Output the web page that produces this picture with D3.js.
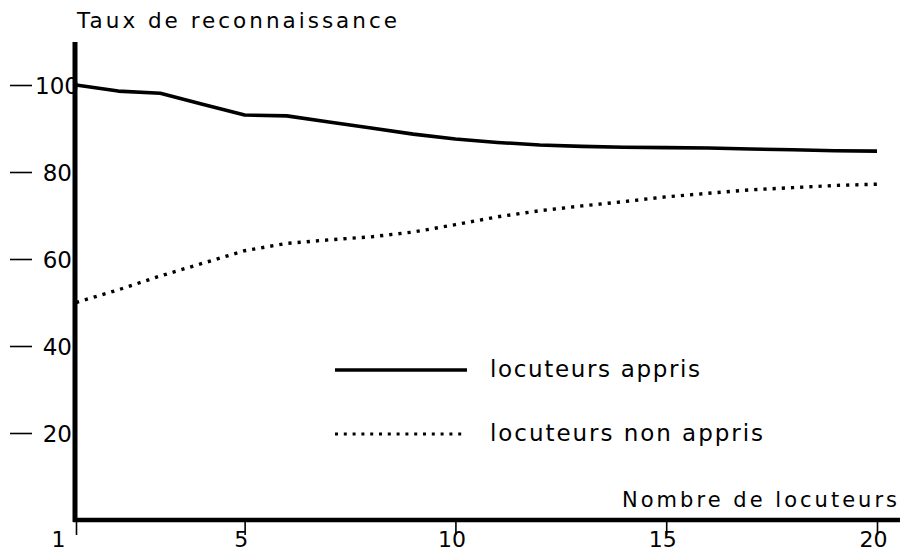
<!DOCTYPE html>
<html>
<head>
<meta charset="utf-8">
<script src="https://cdn.jsdelivr.net/npm/d3@7"></script>
<style>
  html, body { margin: 0; padding: 0; background: #fff; }
  svg text { font-family: "DejaVu Sans", "Liberation Sans", sans-serif; fill: #000; }
</style>
</head>
<body>
<svg id="chart" width="902" height="553"></svg>
<script>
// Nombre de locuteurs (abscisse)
const locuteurs = [1, 2, 3, 4, 5, 6, 7, 8, 9, 10, 11, 12, 13, 14, 15, 16, 17, 18, 19, 20];
// Taux de reconnaissance (%) pour les locuteurs appris
const appris = [100, 98.6, 98.1, 95.6, 93.1, 92.9, 91.5, 90.1, 88.7, 87.6, 86.8, 86.2, 85.9, 85.7, 85.6, 85.5, 85.3, 85.1, 84.9, 84.8];
// Taux de reconnaissance (%) pour les locuteurs non appris
const nonAppris = [50, 52.9, 56.1, 59.0, 61.9, 63.6, 64.4, 65.1, 66.2, 67.9, 69.7, 71.1, 72.2, 73.2, 74.3, 75.1, 75.9, 76.4, 76.9, 77.2];
// Graduations
const xTicks = [1, 5, 10, 15, 20];
const yTicks = [20, 40, 60, 80, 100];
const legendLabels = ["locuteurs appris", "locuteurs non appris"];

const svg = d3.select("#chart");
const x = d3.scaleLinear().domain([1, 20]).range([76, 877]);
const y = d3.scaleLinear().domain([0, 100]).range([520, 85]);

// Courbes
const line = d3.line().x((d, i) => x(locuteurs[i])).y(d => y(d));
svg.append("path").datum(appris)
  .attr("d", line).attr("fill", "none").attr("stroke", "#000")
  .attr("stroke-width", 3.6).attr("stroke-linejoin", "round");
svg.append("path").datum(nonAppris)
  .attr("d", line).attr("fill", "none").attr("stroke", "#000")
  .attr("stroke-width", 3.4).attr("stroke-dasharray", "3.2,6");

// Axe horizontal
const gx = svg.append("g").attr("transform", `translate(0,${y(0)})`)
  .call(d3.axisBottom(x).tickValues(xTicks).tickSize(15).tickSizeOuter(0));
gx.select(".domain").remove();
gx.selectAll(".tick line").attr("stroke", "#000").attr("stroke-width", 1.6);
gx.selectAll(".tick text")
  .attr("font-size", 22).attr("y", 26.5).attr("dy", 0)
  .attr("x", d => d === 1 ? -18 : -4)
  .attr("font-family", "DejaVu Sans, sans-serif");

// Axe vertical
const gy = svg.append("g").attr("transform", `translate(${x(1) - 1},0)`)
  .call(d3.axisLeft(y).tickValues(yTicks).tickSize(0).tickSizeOuter(0));
gy.select(".domain").remove();
gy.selectAll(".tick line")
  .attr("x1", -65).attr("x2", -43).attr("stroke", "#000").attr("stroke-width", 1.6);
gy.selectAll(".tick text")
  .attr("font-size", 23).attr("x", d => d === 100 ? 4 : -3).attr("dy", 8.5)
  .attr("font-family", "DejaVu Sans, sans-serif");

// Traits des axes
svg.append("line").attr("x1", x(1) - 1).attr("x2", x(1) - 1)
  .attr("y1", 42).attr("y2", y(0) + 2)
  .attr("stroke", "#000").attr("stroke-width", 5);
svg.append("line").attr("x1", x(1) - 3).attr("x2", 900)
  .attr("y1", y(0)).attr("y2", y(0))
  .attr("stroke", "#000").attr("stroke-width", 4.5);

// Titres des axes
svg.append("text").attr("x", 77).attr("y", 27.5)
  .attr("font-size", 21.5).attr("textLength", 320).attr("lengthAdjust", "spacing")
  .text("Taux de reconnaissance");
svg.append("text").attr("x", 622).attr("y", 506.5)
  .attr("font-size", 21).attr("textLength", 275).attr("lengthAdjust", "spacing")
  .text("Nombre de locuteurs");

// Légende
const legend = svg.append("g");
const legendY = [370, 434];
const legendW = [210, 273];
legendLabels.forEach((lab, i) => {
  legend.append("line").attr("x1", 335).attr("x2", 467)
    .attr("y1", legendY[i]).attr("y2", legendY[i])
    .attr("stroke", "#000").attr("stroke-width", i === 0 ? 3.4 : 3.2)
    .attr("stroke-dasharray", i === 0 ? null : "3,5.8");
  legend.append("text").attr("x", 490).attr("y", legendY[i] + 7)
    .attr("font-size", 23).attr("textLength", legendW[i]).attr("lengthAdjust", "spacing")
    .text(lab);
});
</script>
</body>
</html>
